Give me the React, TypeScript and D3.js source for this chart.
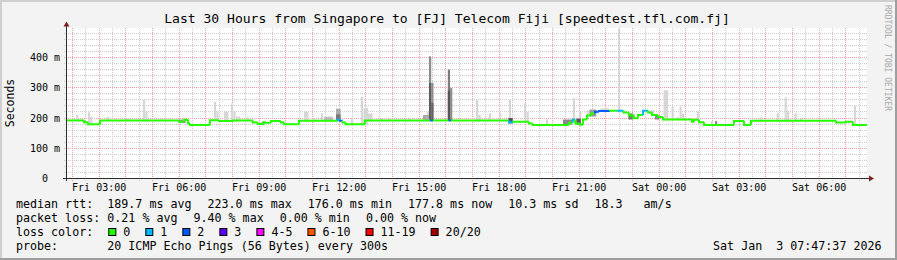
import React from 'react';
import * as d3 from 'd3';

const START = new Date(2026, 0, 2, 1, 47, 37);
const SPAN_HOURS = 30;
const STEP_H = 5 / 60;

const titleText = 'Last 30 Hours from Singapore to [FJ] Telecom Fiji [speedtest.tfl.com.fj]';
const yLabel = 'Seconds';
const watermark = 'RRDTOOL / TOBI OETIKER';
const yTicks = [0, 100, 200, 300, 400];

// median rtt steps: start (hours after START), value (ms), loss bucket index
const medianHours = [0, 0.64, 0.79, 1.24, 4.2, 4.39, 4.54, 4.61, 5.36, 5.7, 6.22, 6.97, 7.16, 7.39, 7.46, 7.65, 8.02, 8.14, 8.7, 10.16, 10.24, 10.33, 10.45, 11.17, 13.62, 13.72, 14.31, 14.4, 16.57, 16.74, 17.32, 17.47, 18.82, 18.97, 19.06, 19.24, 19.35, 19.5, 19.65, 19.8, 19.95, 20.36, 20.62, 20.87, 21.07, 21.26, 21.41, 21.6, 21.79, 21.94, 22.16, 22.35, 23.44, 23.51, 23.7, 23.89, 25.01, 25.39, 25.65, 28.84, 29.21, 29.47];
const medianMs = [192, 186, 179, 192, 188, 194, 183, 177, 193, 190, 192, 185, 180, 186, 184, 190, 185, 179, 191, 194, 191, 185, 179, 192, 192, 192, 192, 192, 186, 188, 182, 177, 184, 195, 182, 178, 195, 208, 215, 221, 223, 224, 224, 218, 208, 199, 210, 224, 218, 210, 203, 195, 188, 194, 186, 177, 190, 177, 191, 185, 188, 177];
const medianLoss = [0, 0, 0, 0, 0, 0, 0, 0, 0, 0, 0, 0, 0, 0, 0, 0, 0, 0, 0, 1, 2, 0, 0, 0, 2, 0, 2, 0, 1, 0, 0, 0, 0, 1, 0, 0, 0, 0, 0, 2, 2, 0, 1, 0, 0, 0, 0, 1, 0, 0, 0, 0, 0, 0, 0, 0, 0, 0, 0, 0, 0, 0];

// light smoke: [hour, steps, top ms]
const smokeLight: [number, number, number][] = [
  [0.34, 1, 210], [0.79, 1, 219], [0.87, 1, 203], [1.5, 1, 204], [2.17, 2, 199], [2.85, 1, 260], [2.94, 1, 223], [3.52, 1, 197],
  [5.51, 1, 254], [5.6, 1, 222], [5.89, 2, 221], [6.15, 1, 248], [6.24, 1, 224], [6.34, 2, 205], [6.75, 1, 203],
  [8.89, 2, 221], [9.22, 1, 200], [9.52, 1, 216], [9.64, 4, 205], [10.09, 2, 232], [10.65, 1, 201], [11.02, 1, 270], [11.12, 2, 233],
  [11.21, 3, 215], [11.77, 1, 200], [12.07, 1, 200], [12.82, 1, 200], [13.35, 3, 205], [13.49, 1, 221],
  [15.34, 1, 260], [15.43, 1, 210], [15.82, 1, 216], [16.2, 1, 216], [16.57, 1, 260], [17.14, 1, 249], [17.23, 1, 220], [17.96, 1, 196],
  [18.97, 1, 266], [19.2, 1, 221], [19.5, 3, 226], [20.0, 4, 232], [20.66, 1, 495], [21.15, 2, 214], [21.85, 2, 226],
  [22.37, 2, 292], [22.67, 1, 238], [22.86, 1, 203], [22.97, 1, 238], [23.06, 1, 215], [23.62, 1, 222], [24.15, 1, 190],
  [25.97, 1, 203], [26.61, 1, 216], [26.91, 1, 268], [27.0, 1, 225], [27.28, 1, 216], [27.49, 1, 200], [29.51, 1, 240],
];

// darker smoke: [hour, steps, low ms, high ms, grey]
const smokeDark: [number, number, number, number, string][] = [
  [0.6, 1, 184, 192, '#777777'], [4.2, 3, 183, 195, '#999999'], [7.3, 1, 180, 188, '#888888'],
  [9.64, 4, 190, 203, '#bbbbbb'], [10.09, 2, 190, 230, '#aaaaaa'], [10.09, 2, 190, 212, '#777777'],
  [13.35, 3, 190, 210, '#aaaaaa'], [13.575, 1, 192, 404, '#8c8c8c'], [13.575, 1, 192, 316, '#5c5c5c'],
  [13.66, 1, 192, 316, '#8c8c8c'], [13.66, 1, 192, 250, '#666666'], [14.28, 1, 192, 360, '#7c7c7c'],
  [14.28, 1, 192, 290, '#555555'], [14.365, 1, 192, 299, '#8c8c8c'], [16.55, 2, 182, 200, '#555555'],
  [18.6, 4, 178, 195, '#888888'], [19.1, 2, 178, 198, '#555555'], [19.6, 3, 205, 228, '#999999'],
  [21.05, 2, 195, 215, '#777777'], [22.05, 2, 195, 210, '#888888'], [23.45, 1, 186, 195, '#666666'],
  [24.3, 1, 177, 190, '#888888'],
];

const lossLabels = ['0', '1', '2', '3', '4-5', '6-10', '11-19', '20/20'];
const lossColors = ['#26ff00', '#00b8ff', '#0059ff', '#5e00ff', '#ff00ff', '#ff5500', '#ff0000', '#a10000'];
const rttItems = ['189.7 ms avg', '223.0 ms max', '176.0 ms min', '177.8 ms now', '10.3 ms sd', '18.3   am/s'];
const lossItems = ['0.21 % avg', '9.40 % max', '0.00 % min', '0.00 % now'];
const probeText = '20 ICMP Echo Pings (56 Bytes) every 300s';
const stampText = 'Sat Jan  3 07:47:37 2026';

const MONO = '"DejaVu Sans Mono", monospace';
const CW = 7.02;
const nb = (s: string) => s.replace(/ /g, '\u00a0');

export default function App() {
  const at = (h: number) => new Date(START.getTime() + h * 3600e3);
  const end = at(SPAN_HOURS);
  const x = d3.scaleTime().domain([START, end]).range([67, 867]);
  const y = d3.scaleLinear().domain([0, 496]).range([178.5, 28.5]);
  const xh = (h: number) => x(at(h));
  const px = (v: number) => Math.floor(v) + 0.5;

  const medianAt = (h: number) => {
    const i = Math.max(0, d3.bisectRight(medianHours, h) - 1);
    return medianMs[i];
  };

  const minorY = d3.range(20, 496, 20).filter((v) => v % 100 !== 0);
  const majorY = d3.range(100, 496, 100);
  const hourTicks = d3.timeHour.every(1)!.range(START, end);
  const halfTicks = d3.timeMinute.every(30)!.range(START, end).filter((d) => d.getMinutes() === 30);
  const labelTicks = hourTicks.filter((d) => d.getHours() % 3 === 0);
  const fmt = d3.timeFormat('%a %H:%M');

  const line = d3.line<[number, number]>().x((d) => xh(d[0])).y((d) => y(d[1]));
  const segs = medianHours.map((h, i) => {
    const hEnd = i + 1 < medianHours.length ? medianHours[i + 1] : SPAN_HOURS;
    const prev = i > 0 ? medianMs[i - 1] : medianMs[i];
    const pts: [number, number][] = [[h, prev], [h, medianMs[i]], [hEnd, medianMs[i]]];
    return { d: line(pts) as string, loss: medianLoss[i] };
  });

  const rowY = [208, 222, 236, 250];
  const placeItems = (items: string[], x0: number) => {
    let cx = x0;
    return items.map((t) => {
      const r = { t, x: cx };
      cx += t.length * CW + 16;
      return r;
    });
  };
  const rttPos = placeItems(rttItems, 107.3);
  const lossPos = placeItems(lossItems, 107.3);
  let bx = 108.3;
  const boxes = lossLabels.map((l, i) => {
    const r = { l, c: lossColors[i], x: bx };
    bx += 15 + l.length * CW + 15;
    return r;
  });

  return (
    <svg width={897} height={260} style={{ position: 'fixed', left: 0, top: 0, display: 'block' }} fontFamily={MONO}>
      <rect x={0} y={0} width={897} height={260} fill="#f3f3f3" />
      <line x1={0} y1={1} x2={897} y2={1} stroke="#cfcfcf" strokeWidth={2} />
      <line x1={1} y1={0} x2={1} y2={260} stroke="#cfcfcf" strokeWidth={2} />
      <line x1={0} y1={259} x2={897} y2={259} stroke="#9e9e9e" strokeWidth={2} />
      <line x1={896} y1={0} x2={896} y2={260} stroke="#9e9e9e" strokeWidth={2} />

      <rect x={67} y={28} width={800} height={150.5} fill="#ffffff" />

      {/* grid */}
      {minorY.map((v) => (
        <line key={'my' + v} x1={64} x2={867} y1={px(y(v))} y2={px(y(v))} stroke="#cccccc" strokeDasharray="1,1" />
      ))}
      {halfTicks.map((d) => (
        <line key={'mx' + +d} x1={px(x(d))} x2={px(x(d))} y1={28} y2={181} stroke="#cccccc" strokeDasharray="1,1" />
      ))}
      {majorY.map((v) => (
        <line key={'My' + v} x1={64} x2={867} y1={px(y(v))} y2={px(y(v))} stroke="#f0a0a0" strokeDasharray="1,1" />
      ))}
      {hourTicks.map((d) => (
        <line key={'Mx' + +d} x1={px(x(d))} x2={px(x(d))} y1={28} y2={181} stroke="#f0a0a0" strokeDasharray="1,1" />
      ))}

      {/* smoke */}
      {smokeLight.map(([h, s, top], i) => {
        const bottom = medianAt(h) - 3;
        return (
          <rect key={'sl' + i} x={xh(h)} width={xh(h + s * STEP_H) - xh(h)} y={y(top)} height={y(bottom) - y(top)} fill="#d6d6d6" />
        );
      })}
      {smokeDark.map(([h, s, lo, hi, c], i) => (
        <rect key={'sd' + i} x={xh(h)} width={xh(h + s * STEP_H) - xh(h)} y={y(hi)} height={y(lo) - y(hi)} fill={c} />
      ))}

      {/* median line */}
      {segs.map((s, i) => (
        <path key={'m' + i} d={s.d} fill="none" stroke={lossColors[s.loss]} strokeWidth={2} />
      ))}

      {/* axes */}
      <line x1={63} x2={870} y1={178.5} y2={178.5} stroke="#2c2c2c" />
      <line x1={66.5} x2={66.5} y1={181} y2={25} stroke="#2c2c2c" />
      <path d="M66.5,21.5 L69.5,26.5 L63.5,26.5 Z" fill="#7f1f1f" />
      <path d="M874,178.5 L869,175.5 L869,181.5 Z" fill="#7f1f1f" />

      {/* y tick labels */}
      {yTicks.map((v) => (
        <text key={'yt' + v} x={60} y={px(y(v)) + 3.5} fontSize={10} textAnchor="end" fill="#000">
          {nb(v === 0 ? '0  ' : `${v} m`)}
        </text>
      ))}
      {/* x tick labels */}
      {labelTicks.map((d) => (
        <text key={'xt' + +d} x={x(d)} y={190.5} fontSize={10} textAnchor="middle" fill="#000">
          {fmt(d)}
        </text>
      ))}

      <text x={447} y={23} fontSize={13.05} textAnchor="middle" fill="#000">{titleText}</text>
      <text x={14} y={103} fontSize={11.5} textAnchor="middle" fill="#000" transform="rotate(-90,14,103)">{yLabel}</text>
      <text x={884.5} y={5} fontSize={8} fill="#a8a8a8" transform="rotate(90,884.5,5)">{watermark}</text>

      {/* legend */}
      <g fontSize={11.66} fill="#000">
        <text x={16} y={rowY[0]}>{nb('median rtt:')}</text>
        {rttPos.map((p) => (
          <text key={'r' + p.t} x={p.x} y={rowY[0]}>{nb(p.t)}</text>
        ))}
        <text x={16} y={rowY[1]}>{nb('packet loss:')}</text>
        {lossPos.map((p, i) => (
          <text key={'l' + i} x={p.x} y={rowY[1]}>{nb(p.t)}</text>
        ))}
        <text x={16} y={rowY[2]}>{nb('loss color:')}</text>
        {boxes.map((b) => (
          <g key={'b' + b.l}>
            <rect x={b.x + 0.5} y={228.5} width={7} height={7} fill={b.c} stroke="#000" />
            <text x={b.x + 15} y={rowY[2]}>{b.l}</text>
          </g>
        ))}
        <text x={16} y={rowY[3]}>probe:</text>
        <text x={107.3} y={rowY[3]}>{nb(probeText)}</text>
        <text x={881.5} y={rowY[3]} textAnchor="end">{nb(stampText)}</text>
      </g>
    </svg>
  );
}
